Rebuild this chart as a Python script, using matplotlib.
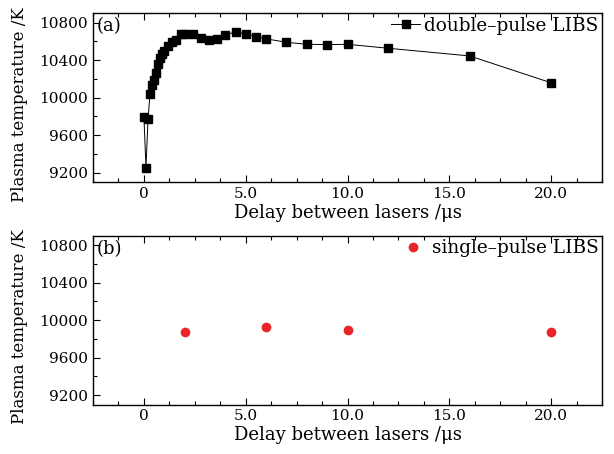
import matplotlib
matplotlib.use("Agg")
import matplotlib.pyplot as plt
import matplotlib.ticker as mticker

# Double-pulse LIBS: plasma temperature vs delay between lasers
dp_delay = [0.0, 0.1, 0.2, 0.3, 0.4, 0.5, 0.6, 0.7, 0.8, 0.9, 1.0, 1.2, 1.4, 1.6,
            1.8, 2.0, 2.4, 2.8, 3.2, 3.6, 4.0, 4.5, 5.0, 5.5, 6.0, 7.0, 8.0, 9.0,
            10.0, 12.0, 16.0, 20.0]
dp_temp = [9795, 9250, 9767, 10040, 10134, 10187, 10265, 10358, 10419, 10462,
           10497, 10554, 10590, 10612, 10676, 10676, 10676, 10633, 10612, 10626,
           10672, 10697, 10683, 10650, 10626, 10590, 10568, 10565, 10568, 10526,
           10444, 10158]

# Single-pulse LIBS
sp_delay = [2.0, 6.0, 10.0, 20.0]
sp_temp = [9873, 9929, 9895, 9876]

xticks = [0, 5, 10, 15, 20]
xticklabels = ["0", "5.0", "10.0", "15.0", "20.0"]
yticks = [9200, 9600, 10000, 10400, 10800]

plt.rcParams["font.family"] = ["DejaVu Serif"]
plt.rcParams["mathtext.fontset"] = "dejavuserif"

fig = plt.figure(figsize=(6.14, 4.54), dpi=100)
ax1 = fig.add_axes([0.1515, 0.599, 0.829, 0.372])
ax2 = fig.add_axes([0.1515, 0.109, 0.829, 0.372])

ax1.plot(dp_delay, dp_temp, color="black", lw=0.7, marker="s", ms=6,
         label="double\u2013pulse LIBS")
ax2.plot(sp_delay, sp_temp, ls="none", color="#e8262a", marker="o", ms=6,
         label="single\u2013pulse LIBS")

for ax, tag in [(ax1, "(a)"), (ax2, "(b)")]:
    ax.set_xlim(-2.5, 22.5)
    ax.set_ylim(9100, 10900)
    ax.set_xticks(xticks)
    ax.set_xticklabels(xticklabels)
    ax.set_yticks(yticks)
    ax.xaxis.set_minor_locator(mticker.MultipleLocator(1.25))
    ax.yaxis.set_minor_locator(mticker.MultipleLocator(200))
    ax.tick_params(which="both", direction="in", top=True, labelsize=11, width=0.8)
    ax.tick_params(which="major", length=5)
    ax.tick_params(which="minor", length=3)
    for s in ax.spines.values():
        s.set_linewidth(1.0)
    ax.set_xlabel("Delay between lasers /\u03bcs", fontsize=13, labelpad=2)
    ax.set_ylabel("Plasma temperature /K", fontsize=12)
    ax.yaxis.set_label_coords(-0.128, 0.46)
    ax.text(0.008, 0.975, tag, transform=ax.transAxes, fontsize=13,
            ha="left", va="top")
    ax.legend(loc="upper right", frameon=False, fontsize=13.3, handlelength=1.6,
              handletextpad=0.2, borderaxespad=0.1, borderpad=0.1)

fig.savefig("out.png", dpi=100)
